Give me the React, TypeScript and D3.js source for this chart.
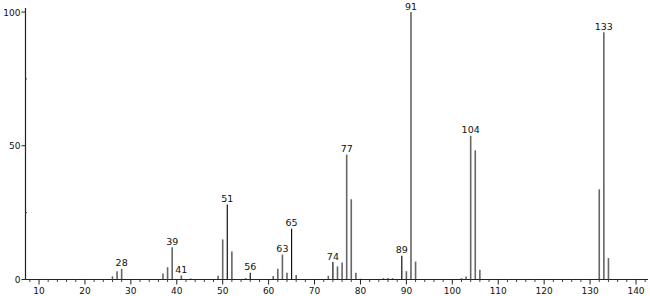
import React from "react";
import * as d3 from "d3";

const mzValues = [26, 27, 28, 37, 38, 39, 41, 43, 49, 50, 51, 52, 55, 56, 61, 62, 63, 64, 65, 66, 73, 74, 75, 76, 77, 78, 79, 80, 85, 86, 87, 89, 90, 91, 92, 102, 103, 104, 105, 106, 132, 133, 134];
const intensities = [1.2, 3.1, 4.0, 2.2, 4.6, 12.1, 1.5, 0.4, 1.4, 15, 28, 10.5, 0.5, 2.5, 1.3, 4, 9.3, 2.5, 19, 1.7, 1.4, 6.5, 4.9, 6.4, 46.7, 30, 2.5, 0.3, 0.5, 0.6, 0.5, 8.9, 3.1, 100, 6.7, 0.5, 1.1, 53.7, 48.3, 3.6, 33.7, 92.4, 8];
const labeledPeaks = [28, 39, 41, 51, 56, 63, 65, 74, 77, 89, 91, 104, 133];
const darkPeaks = [51, 56, 65, 74, 89];
const xTickLabels = [10, 20, 30, 40, 50, 60, 70, 80, 90, 100, 110, 120, 130, 140];
const yTickLabels = [0, 50, 100];
const yMinorTicks = [25, 75];

export default function App() {
  const W = 650, H = 296;
  const x = d3.scaleLinear().domain([10, 140]).range([39, 636]);
  const y = d3.scaleLinear().domain([0, 100]).range([279.5, 12]);
  const axisLeft = 25.5;
  const axisRight = 648;
  const baseY = y(0);
  const minorX = d3.range(8, 143, 2).filter((v) => v % 10 !== 0 && x(v) > axisLeft && x(v) < axisRight);
  const font = "'DejaVu Sans', sans-serif";
  return (
    <svg width={W} height={H} style={{ position: "absolute", left: 0, top: 0, background: "#fff" }}>
      {/* bars */}
      {mzValues.map((m, i) => (
        <line key={"b" + m} x1={x(m)} x2={x(m)} y1={baseY} y2={y(intensities[i])}
          stroke={darkPeaks.includes(m) ? "#111" : "#666"} strokeWidth={darkPeaks.includes(m) ? 1.2 : 1.6} />
      ))}
      {/* peak labels */}
      {mzValues.map((m, i) => labeledPeaks.includes(m) ? (
        <text key={"l" + m} x={x(m)} y={y(intensities[i]) - 2.5} textAnchor="middle" fontFamily={font} fontSize={9.5} fill="#111">{m}</text>
      ) : null)}
      {/* x axis */}
      <line x1={axisLeft} x2={axisRight} y1={baseY} y2={baseY} stroke="#222" strokeWidth={1.2} />
      {xTickLabels.map((v) => (
        <g key={"xt" + v}>
          <line x1={x(v)} x2={x(v)} y1={baseY} y2={baseY + 5} stroke="#222" strokeWidth={1} />
          <text x={x(v)} y={baseY + 14} textAnchor="middle" fontFamily={font} fontSize={9} fill="#111">{v}</text>
        </g>
      ))}
      {minorX.map((v) => (
        <line key={"mx" + v} x1={x(v)} x2={x(v)} y1={baseY} y2={baseY + 2.5} stroke="#444" strokeWidth={1} />
      ))}
      {/* y axis */}
      <line x1={axisLeft} x2={axisLeft} y1={8} y2={baseY} stroke="#222" strokeWidth={1.2} />
      {yTickLabels.map((v) => (
        <g key={"yt" + v}>
          <line x1={axisLeft - 4} x2={axisLeft} y1={y(v)} y2={y(v)} stroke="#222" strokeWidth={1} />
          <text x={axisLeft - 5} y={y(v) + 3.5} textAnchor="end" fontFamily={font} fontSize={9} fill="#111">{v}</text>
        </g>
      ))}
      {yMinorTicks.map((v) => (
        <line key={"ym" + v} x1={axisLeft} x2={axisLeft + 1.5} y1={y(v)} y2={y(v)} stroke="#444" strokeWidth={1} />
      ))}
    </svg>
  );
}
